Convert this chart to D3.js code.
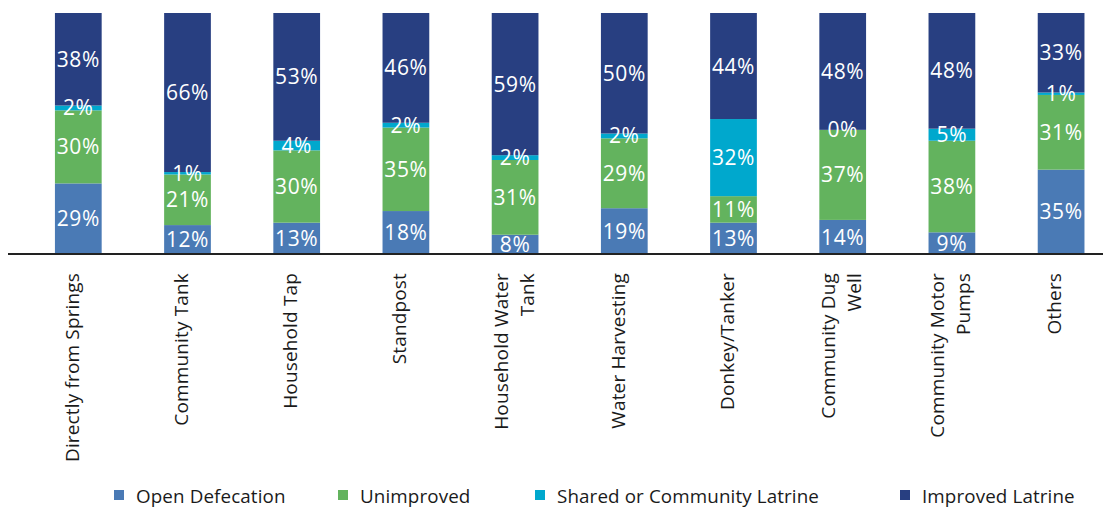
<!DOCTYPE html>
<html>
<head>
<meta charset="utf-8">
<script src="https://cdn.jsdelivr.net/npm/d3@7"></script>
<style>
  html, body { margin: 0; padding: 0; background: #ffffff; }
  svg { display: block; font-family: "Open Sans", "Noto Sans", sans-serif; }
</style>
</head>
<body>
<svg id="chart" width="1103" height="508"></svg>
<script>
// Water source categories (x axis)
const categories = [
  "Directly from Springs", "Community Tank", "Household Tap", "Standpost",
  "Household Water Tank", "Water Harvesting", "Donkey/Tanker",
  "Community Dug Well", "Community Motor Pumps", "Others"
];
// How each category name wraps under the axis
const categoryLines = [
  ["Directly from Springs"], ["Community Tank"], ["Household Tap"], ["Standpost"],
  ["Household Water", "Tank"], ["Water Harvesting"], ["Donkey/Tanker"],
  ["Community Dug", "Well"], ["Community Motor", "Pumps"], ["Others"]
];

// Sanitation type shares (%) per water source
const seriesNames = ["Open Defecation", "Unimproved", "Shared or Community Latrine", "Improved Latrine"];
const openDefecation  = [29, 12, 13, 18,  8, 19, 13, 14,  9, 35];
const unimproved      = [30, 21, 30, 35, 31, 29, 11, 37, 38, 31];
const sharedLatrine   = [ 2,  1,  4,  2,  2,  2, 32,  0,  5,  1];
const improvedLatrine = [38, 66, 53, 46, 59, 50, 44, 48, 48, 33];
const seriesColors = ["#4A7AB5", "#63B35E", "#00A8CD", "#283F81"];

const seriesValues = [openDefecation, unimproved, sharedLatrine, improvedLatrine];
const rows = categories.map((c, i) => {
  const r = { category: c, index: i };
  seriesNames.forEach((s, k) => { r[s] = seriesValues[k][i]; });
  return r;
});

const svg = d3.select("#chart");

// Layout
const baselineY = 254;
const topY = 13;

const x = d3.scaleBand()
  .domain(categories)
  .range([23.7, 1115.7])
  .paddingInner(0.572)
  .paddingOuter(0.286);

const y = d3.scaleLinear().domain([0, 1]).range([baselineY, topY]);

const color = d3.scaleOrdinal().domain(seriesNames).range(seriesColors);

// Each column is shown as a share of its own total
const stacked = d3.stack().keys(seriesNames).offset(d3.stackOffsetExpand)(rows);

const layers = svg.append("g").attr("class", "bars")
  .selectAll("g")
  .data(stacked)
  .join("g")
  .attr("fill", d => color(d.key));

layers.selectAll("rect")
  .data(d => d)
  .join("rect")
  .attr("x", d => x(d.data.category))
  .attr("y", d => y(d[1]))
  .attr("width", x.bandwidth())
  .attr("height", d => Math.max(0, y(d[0]) - y(d[1])));

// Value labels, centred in their segments
const labels = svg.append("g").attr("class", "values")
  .attr("fill", "#ffffff")
  .attr("font-size", 21)
  .attr("letter-spacing", 0.6)
  .attr("text-anchor", "middle");

stacked.forEach(layer => {
  labels.selectAll(null)
    .data(layer)
    .join("text")
    .attr("x", d => x(d.data.category) + x.bandwidth() / 2)
    .attr("y", d => (y(d[0]) + y(d[1])) / 2)
    .attr("dy", "0.36em")
    .text(d => d.data[layer.key] + "%");
});

// Horizontal category axis line
svg.append("line")
  .attr("x1", 8).attr("x2", 1103)
  .attr("y1", baselineY).attr("y2", baselineY)
  .attr("stroke", "#222222")
  .attr("stroke-width", 2.2);

// Rotated category names
const catSize = 19;
const catG = svg.append("g").attr("class", "categories")
  .attr("font-size", catSize)
  .attr("letter-spacing", 0.15)
  .attr("fill", "#1a1a1a")
  .attr("text-anchor", "end");

categories.forEach((c, i) => {
  const lines = categoryLines[i];
  const cx = x(c) + x.bandwidth() / 2;
  const t = catG.append("text")
    .attr("transform", `translate(${cx},273) rotate(-90)`);
  lines.forEach((ln, j) => {
    const off = lines.length === 1 ? 0.02 : (j === 0 ? -0.4 : 0.97);
    t.append("tspan")
      .attr("x", 0)
      .attr("y", 0)
      .attr("dy", off + "em")
      .text(ln);
  });
});

// Legend
const legendX = [114, 338, 535, 900];
const legend = svg.append("g").attr("class", "legend")
  .attr("font-size", 18.8)
  .attr("letter-spacing", 0.12)
  .attr("fill", "#1a1a1a");

seriesNames.forEach((s, i) => {
  const g = legend.append("g").attr("transform", `translate(${legendX[i]},0)`);
  g.append("rect")
    .attr("x", 0).attr("y", 490)
    .attr("width", 10).attr("height", 10)
    .attr("fill", color(s));
  g.append("text")
    .attr("x", 22).attr("y", 502.5)
    .text(s);
});
</script>
</body>
</html>
